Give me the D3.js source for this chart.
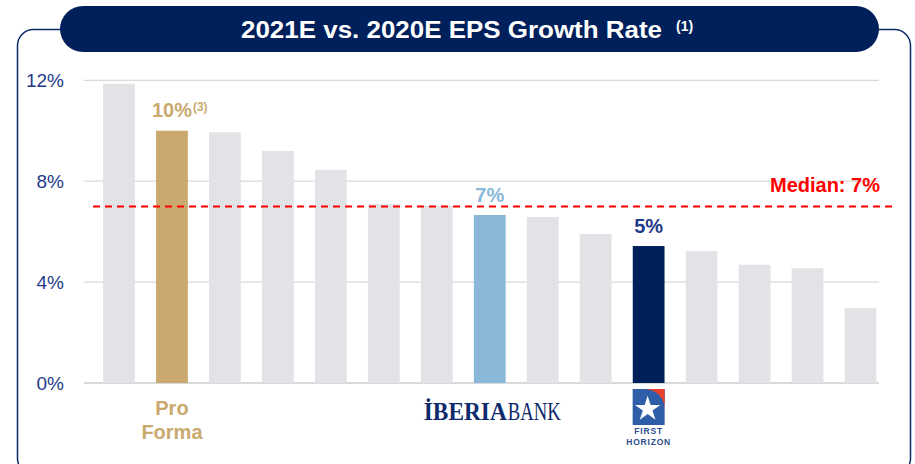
<!DOCTYPE html>
<html>
<head>
<meta charset="utf-8">
<script src="https://cdn.jsdelivr.net/npm/d3@7"></script>
<style>
  body { margin: 0; background: #fff; }
  svg text { font-family: "Liberation Sans", Arial, sans-serif; }
</style>
</head>
<body>
<div id="chart"></div>
<script>
var svgWidth = 915;
var svgHeight = 464;

// data
var peers = ["P1", "Pro Forma", "P3", "P4", "P5", "P6", "P7", "IBERIABANK", "P9", "P10", "First Horizon", "P12", "P13", "P14", "P15"];
var growth = [11.86, 10.0, 9.94, 9.2, 8.45, 7.1, 7.03, 6.66, 6.58, 5.91, 5.43, 5.23, 4.69, 4.55, 2.97];
var yTicks = [0, 4, 8, 12];
var median = 7.0;
var highlight = {
  "Pro Forma": { color: "#C9A96E", label: "10%", note: "(3)" },
  "IBERIABANK": { color: "#8AB8D8", label: "7%" },
  "First Horizon": { color: "#00205B", label: "5%", textColor: "#1F3A8A" }
};

var data = peers.map(function(p, i) { return { name: p, value: growth[i] }; });

var svg = d3.select("#chart")
  .append("svg")
  .attr("width", svgWidth)
  .attr("height", svgHeight);

// frame
svg.append("rect")
  .attr("x", 17.5).attr("y", 29.5)
  .attr("width", 893).attr("height", 445)
  .attr("rx", 16)
  .attr("fill", "none")
  .attr("stroke", "#0E2A6B")
  .attr("stroke-width", 1.5);

// title pill
svg.append("rect")
  .attr("x", 60).attr("y", 6)
  .attr("width", 819).attr("height", 46)
  .attr("rx", 23)
  .attr("fill", "#00205B");

svg.append("text")
  .attr("x", 241).attr("y", 38)
  .attr("fill", "#fff")
  .style("font-weight", "bold")
  .style("font-size", "23px")
  .attr("textLength", 421)
  .attr("lengthAdjust", "spacingAndGlyphs")
  .text("2021E vs. 2020E EPS Growth Rate");
svg.append("text")
  .attr("x", 676).attr("y", 31)
  .attr("fill", "#fff")
  .style("font-weight", "bold")
  .style("font-size", "14px")
  .text("(1)");

var x = d3.scaleBand()
  .domain(peers)
  .range([92.5, 887])
  .paddingInner(0.4)
  .paddingOuter(0.2);

var y = d3.scaleLinear()
  .domain([0, 12])
  .range([383, 80.3]);

// gridlines
svg.append("g").selectAll("line")
  .data(yTicks)
  .enter()
  .append("line")
  .attr("x1", 84).attr("x2", 879)
  .attr("y1", d => y(d)).attr("y2", d => y(d))
  .attr("stroke", "#D9D9D9")
  .attr("stroke-width", d => d === 0 ? 2 : 1.3);

svg.append("g").selectAll("text")
  .data(yTicks)
  .enter()
  .append("text")
  .attr("x", 64)
  .attr("y", d => y(d))
  .attr("dy", "0.36em")
  .attr("text-anchor", "end")
  .attr("fill", "#1F3A8A")
  .style("font-size", "19px")
  .text(d => d + "%");

// bars
svg.append("g").selectAll("rect")
  .data(data)
  .enter()
  .append("rect")
  .attr("x", d => x(d.name))
  .attr("y", d => y(d.value))
  .attr("width", x.bandwidth())
  .attr("height", d => y(0) - y(d.value))
  .attr("fill", d => highlight[d.name] ? highlight[d.name].color : "#E2E3E7");

// median line
svg.append("line")
  .attr("x1", 93).attr("x2", 893)
  .attr("y1", y(median)).attr("y2", y(median))
  .attr("stroke", "#FF0000")
  .attr("stroke-width", 2)
  .attr("stroke-dasharray", "7,5");

svg.append("text")
  .attr("x", 880).attr("y", 191.5)
  .attr("text-anchor", "end")
  .attr("fill", "#FF0000")
  .style("font-weight", "bold")
  .style("font-size", "20px")
  .text("Median: " + median + "%");

// value labels on highlighted bars
var hl = data.filter(d => highlight[d.name]);
hl.forEach(function(d) {
  var h = highlight[d.name];
  var cx = x(d.name) + x.bandwidth() / 2;
  var t = svg.append("text")
    .attr("x", cx)
    .attr("y", y(d.value) - 13.5)
    .attr("text-anchor", "middle")
    .attr("fill", h.textColor || h.color)
    .style("font-weight", "bold")
    .style("font-size", "20px")
    .text(h.label);
  if (h.note) {
    var w = t.node().getComputedTextLength();
    svg.append("text")
      .attr("x", cx + w / 2 + 1)
      .attr("y", y(d.value) - 20)
      .attr("fill", h.color)
      .style("font-weight", "bold")
      .style("font-size", "12px")
      .text(h.note);
  }
});

// category labels
var pf = x("Pro Forma") + x.bandwidth() / 2;
svg.append("text")
  .attr("x", pf).attr("y", 415)
  .attr("text-anchor", "middle")
  .attr("fill", "#C9A96E")
  .style("font-weight", "bold")
  .style("font-size", "20px")
  .selectAll("tspan")
  .data(["Pro", "Forma"])
  .enter()
  .append("tspan")
  .attr("x", pf)
  .attr("dy", (d, i) => i ? 24 : 0)
  .text(d => d);

// IBERIABANK wordmark
var ib = x("IBERIABANK") + x.bandwidth() / 2;
svg.append("text")
  .attr("x", ib - 66).attr("y", 420)
  .attr("fill", "#0E2A6B")
  .style("font-family", "'Liberation Serif', 'DejaVu Serif', serif")
  .style("font-weight", "bold")
  .style("font-size", "25px")
  .attr("textLength", 83)
  .attr("lengthAdjust", "spacingAndGlyphs")
  .text("İBERIA");
svg.append("text")
  .attr("x", ib + 18).attr("y", 420)
  .attr("fill", "#0E2A6B")
  .style("font-family", "'Liberation Serif', 'DejaVu Serif', serif")
  .style("font-size", "25px")
  .attr("textLength", 53)
  .attr("lengthAdjust", "spacingAndGlyphs")
  .text("BANK");

// First Horizon logo
var fh = x("First Horizon") + x.bandwidth() / 2;
var logo = svg.append("g").attr("transform", `translate(${fh - 16}, 389)`);
logo.append("rect").attr("width", 32).attr("height", 36).attr("fill", "#2F5EA8");
logo.append("path")
  .attr("d", "M12,0 L32,0 L32,20 A20,20 0 0 0 12,0 Z")
  .attr("fill", "#E8402E");
logo.append("path")
  .attr("d", d3.symbol().type(d3.symbolStar).size(200)())
  .attr("transform", "translate(15,20)")
  .attr("fill", "#fff");
svg.append("text")
  .attr("text-anchor", "middle")
  .attr("fill", "#2F4F8F")
  .style("font-weight", "bold")
  .style("font-size", "8.5px")
  .style("letter-spacing", "0.8px")
  .selectAll("tspan")
  .data(["FIRST", "HORIZON"])
  .enter()
  .append("tspan")
  .attr("x", fh)
  .attr("y", (d, i) => i ? 444.5 : 434)
  .text(d => d);
</script>
</body>
</html>
